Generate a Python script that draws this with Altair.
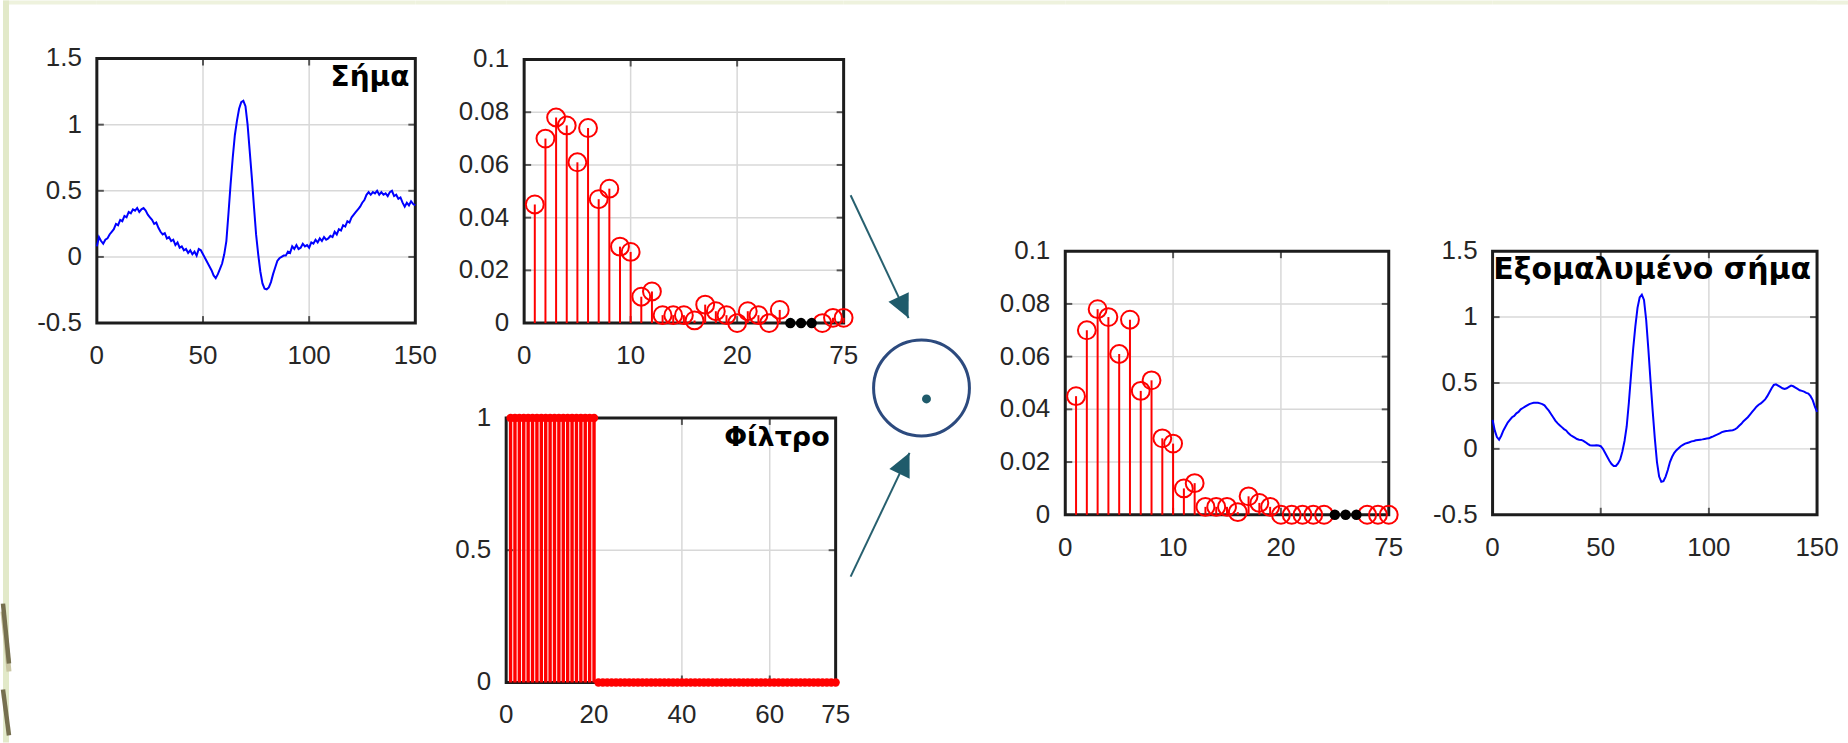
import math
import pandas as pd
import altair as alt

# ---------------- data ----------------
SIG_X = list(range(151))
NOISY = [
    0.08, 0.15, 0.12, 0.10, 0.13, 0.14, 0.17, 0.19, 0.21, 0.25,
    0.24, 0.28, 0.27, 0.31, 0.30, 0.34, 0.33, 0.36, 0.35, 0.37,
    0.34, 0.36, 0.37, 0.35, 0.32, 0.30, 0.28, 0.25, 0.26, 0.22,
    0.19, 0.17, 0.18, 0.14, 0.15, 0.12, 0.13, 0.09, 0.11, 0.07,
    0.08, 0.05, 0.06, 0.03, 0.05, 0.02, 0.04, 0.01, 0.06, 0.05,
    0.02, -0.01, -0.04, -0.07, -0.10, -0.14, -0.16, -0.13, -0.09, -0.05,
    0.02, 0.12, 0.33, 0.55, 0.75, 0.92, 1.03, 1.12, 1.17, 1.18,
    1.14, 1.00, 0.80, 0.60, 0.38, 0.17, 0.02, -0.11, -0.20, -0.24,
    -0.245, -0.23, -0.19, -0.13, -0.08, -0.03, -0.01, 0.00, 0.01, 0.01,
    0.04, 0.03, 0.08, 0.06, 0.09, 0.06, 0.07, 0.10, 0.08, 0.09,
    0.07, 0.11, 0.10, 0.13, 0.11, 0.14, 0.12, 0.15, 0.13, 0.14,
    0.16, 0.15, 0.19, 0.17, 0.21, 0.20, 0.24, 0.23, 0.27, 0.26,
    0.30, 0.32, 0.34, 0.36, 0.38, 0.41, 0.43, 0.47, 0.49, 0.47,
    0.49, 0.48, 0.50, 0.47, 0.49, 0.47, 0.48, 0.46, 0.49, 0.50,
    0.46, 0.47, 0.44, 0.45, 0.41, 0.38, 0.41, 0.39, 0.42, 0.40,
    0.39,
]
SMOOTH = [
    0.22, 0.14, 0.09, 0.07, 0.10, 0.14, 0.17, 0.20, 0.22, 0.24,
    0.25, 0.27, 0.28, 0.30, 0.31, 0.32, 0.33, 0.34, 0.345, 0.35,
    0.35, 0.35, 0.345, 0.34, 0.33, 0.31, 0.29, 0.265, 0.24, 0.215,
    0.195, 0.18, 0.165, 0.15, 0.14, 0.12, 0.105, 0.095, 0.085, 0.075,
    0.07, 0.068, 0.06, 0.05, 0.038, 0.028, 0.025, 0.025, 0.027, 0.025,
    0.02, 0.0, -0.03, -0.06, -0.09, -0.115, -0.13, -0.13, -0.11, -0.08,
    -0.02, 0.06, 0.17, 0.35, 0.56, 0.76, 0.93, 1.07, 1.15, 1.17,
    1.13, 0.98, 0.76, 0.52, 0.29, 0.08, -0.10, -0.21, -0.25, -0.245,
    -0.21, -0.16, -0.10, -0.06, -0.03, -0.01, 0.005, 0.02, 0.03, 0.04,
    0.045, 0.05, 0.057, 0.06, 0.065, 0.068, 0.07, 0.072, 0.075, 0.078,
    0.08, 0.088, 0.095, 0.103, 0.11, 0.118, 0.127, 0.132, 0.135, 0.137,
    0.14, 0.142, 0.148, 0.158, 0.175, 0.19, 0.21, 0.225, 0.24, 0.26,
    0.28, 0.30, 0.32, 0.335, 0.345, 0.36, 0.375, 0.40, 0.43, 0.46,
    0.485, 0.49, 0.48, 0.47, 0.46, 0.455, 0.46, 0.47, 0.48, 0.475,
    0.465, 0.455, 0.445, 0.44, 0.435, 0.425, 0.42, 0.40, 0.37, 0.32,
    0.28,
]

# DCT coefficients: slots 1..24 hold coefficients 1..24, slots 28..30 hold 73..75
COEF_POS = list(range(1, 25)) + [28, 29, 30]
COEF = [
    0.045, 0.070, 0.078, 0.075, 0.061, 0.074, 0.047, 0.051, 0.029, 0.027,
    0.010, 0.012, 0.003, 0.003, 0.003, 0.001, 0.007, 0.0045, 0.003, 0.0,
    0.0045, 0.003, 0.0, 0.005,
    0.0, 0.002, 0.002,
]
COEF_FILT = [
    0.045, 0.070, 0.078, 0.075, 0.061, 0.074, 0.047, 0.051, 0.029, 0.027,
    0.010, 0.012, 0.003, 0.003, 0.003, 0.001, 0.007, 0.0045, 0.003, 0.0,
    0.0, 0.0, 0.0, 0.0,
    0.0, 0.0, 0.0,
]
GAP_POS = [25, 26, 27]

FILTER_POS = list(range(1, 76))
FILTER_VAL = [1] * 20 + [0] * 55

SIG_XTICKS, SIG_XLABELS = [0, 50, 100, 150], ["0", "50", "100", "150"]
SIG_YTICKS, SIG_YLABELS = [-0.5, 0, 0.5, 1, 1.5], ["-0.5", "0", "0.5", "1", "1.5"]
COEF_XTICKS, COEF_XLABELS = [0, 10, 20, 30], ["0", "10", "20", "75"]
COEF_YTICKS = [0, 0.02, 0.04, 0.06, 0.08, 0.1]
COEF_YLABELS = ["0", "0.02", "0.04", "0.06", "0.08", "0.1"]
FILT_XTICKS, FILT_XLABELS = [0, 20, 40, 60, 75], ["0", "20", "40", "60", "75"]
FILT_YTICKS, FILT_YLABELS = [0, 0.5, 1], ["0", "0.5", "1"]

TITLES = ["Σήμα", "Φίλτρο", "Εξομαλυμένο σήμα"]

# block diagram: two arrows into the product operator (page pixels)
ARROW_X0 = [849, 849]
ARROW_Y0 = [195, 577]
ARROW_X1 = [907, 908]
ARROW_Y1 = [318, 453]
OP_CENTER = (920, 388)
OP_RADIUS = 48
OP_DOT = (925, 399)

PAGE_H = 743
RED = "#ff0000"
BLUE = "#0000ff"
FRAME = "#1c1c1c"
GRID = "#d8d8d8"
LABEL = "#262626"
STRIP = "#e2e9c9"
BAND = "#eef2dd"
TEXT_FONT = "Liberation Sans"
TITLE_FONT = "DejaVu Sans"
LABEL_SIZE = 26
ONE = pd.DataFrame({"a": [0]})


def band_layer(w):
    return alt.Chart(ONE).mark_rect(color=BAND).encode(
        x=alt.value(0), x2=alt.value(w), y=alt.value(0), y2=alt.value(4))


def panel(data_layers, xdom, ydom, xticks, xlabels, yticks, ylabels,
          xrange, yrange, title=None, title_size=28):
    """A MATLAB-style boxed axes, placed at pixel ranges inside a full-height column."""
    xs = alt.Scale(domain=xdom, range=xrange, nice=False, zero=False)
    ys = alt.Scale(domain=ydom, range=yrange, nice=False, zero=False)

    def X(f):
        return alt.X(f, scale=xs, axis=None)

    def Y(f):
        return alt.Y(f, scale=ys, axis=None)

    inner_x = [t for t in xticks if xdom[0] < t < xdom[1]]
    inner_y = [t for t in yticks if ydom[0] < t < ydom[1]]

    gx = pd.DataFrame({"g": inner_x, "lo": ydom[0], "hi": ydom[1]})
    gy = pd.DataFrame({"g": inner_y, "lo": xdom[0], "hi": xdom[1]})
    grid_v = alt.Chart(gx).mark_rule(color=GRID, strokeWidth=1.5).encode(
        x=X("g:Q"), y=Y("lo:Q"), y2="hi:Q")
    grid_h = alt.Chart(gy).mark_rule(color=GRID, strokeWidth=1.5).encode(
        y=Y("g:Q"), x=X("lo:Q"), x2="hi:Q")

    # inward tick marks on all four sides
    bx = pd.DataFrame({"g": inner_x, "e": ydom[0]})
    tx = pd.DataFrame({"g": inner_x, "e": ydom[1]})
    ly_ = pd.DataFrame({"g": inner_y, "e": xdom[0]})
    ry_ = pd.DataFrame({"g": inner_y, "e": xdom[1]})
    tick_style = dict(color=FRAME, size=7, thickness=2)
    ticks_b = alt.Chart(bx).mark_tick(orient="vertical", yOffset=-3.5, **tick_style
                                      ).encode(x=X("g:Q"), y=Y("e:Q"))
    ticks_t = alt.Chart(tx).mark_tick(orient="vertical", yOffset=3.5, **tick_style
                                      ).encode(x=X("g:Q"), y=Y("e:Q"))
    ticks_l = alt.Chart(ly_).mark_tick(orient="horizontal", xOffset=3.5, **tick_style
                                       ).encode(y=Y("g:Q"), x=X("e:Q"))
    ticks_r = alt.Chart(ry_).mark_tick(orient="horizontal", xOffset=-3.5, **tick_style
                                       ).encode(y=Y("g:Q"), x=X("e:Q"))

    box = pd.DataFrame({"x0": [xdom[0]], "x1": [xdom[1]],
                        "y0": [ydom[0]], "y1": [ydom[1]]})
    frame = alt.Chart(box).mark_rect(
        filled=False, stroke=FRAME, strokeWidth=3, fillOpacity=0
    ).encode(x=X("x0:Q"), y=Y("y0:Q"), x2="x1:Q", y2="y1:Q")

    # tick labels
    lx = pd.DataFrame({"v": xticks, "t": xlabels, "e": ydom[0]})
    ly = pd.DataFrame({"v": yticks, "t": ylabels, "e": xdom[0]})
    labels_x = alt.Chart(lx).mark_text(
        align="center", baseline="middle", dy=33, font=TEXT_FONT,
        fontSize=LABEL_SIZE, color=LABEL,
    ).encode(x=X("v:Q"), y=Y("e:Q"), text="t:N")
    labels_y = alt.Chart(ly).mark_text(
        align="right", baseline="middle", dx=-15, font=TEXT_FONT,
        fontSize=LABEL_SIZE, color=LABEL,
    ).encode(x=X("e:Q"), y=Y("v:Q"), text="t:N")

    parts = [grid_v, grid_h, ticks_b, ticks_t, ticks_l, ticks_r, frame,
             labels_x, labels_y] + data_layers(X, Y)
    if title is not None:
        parts.append(alt.Chart(pd.DataFrame({"t": [title]})).mark_text(
            align="right", baseline="alphabetic", font=TITLE_FONT,
            fontWeight="bold", fontSize=title_size, color="#000000",
        ).encode(x=alt.value(xrange[1] - 6), y=alt.value(yrange[1] + 28), text="t:N"))
    return alt.layer(*parts)


def signal_layers(values):
    def fn(X, Y):
        df = pd.DataFrame({"x": SIG_X, "y": values})
        return [alt.Chart(df).mark_line(color=BLUE, strokeWidth=2).encode(
            x=X("x:Q"), y=Y("y:Q"))]
    return fn


def coef_layers(values):
    def fn(X, Y):
        df = pd.DataFrame({"i": COEF_POS, "v": values})
        stems = alt.Chart(df).mark_rule(color=RED, strokeWidth=2).encode(
            x=X("i:Q"), y=Y("v:Q"), y2=alt.datum(0))
        heads = alt.Chart(df).mark_point(
            shape="circle", filled=False, color=RED, size=320, strokeWidth=2,
            opacity=1).encode(x=X("i:Q"), y=Y("v:Q"))
        gap = alt.Chart(pd.DataFrame({"i": GAP_POS, "v": [0, 0, 0]})).mark_point(
            shape="circle", filled=True, color="#000000", size=110, opacity=1
        ).encode(x=X("i:Q"), y=Y("v:Q"))
        return [stems, heads, gap]
    return fn


def filter_layers(X, Y):
    df = pd.DataFrame({"i": FILTER_POS, "v": FILTER_VAL})
    stems = alt.Chart(df).mark_rule(color=RED, strokeWidth=3.4).encode(
        x=X("i:Q"), y=Y("v:Q"), y2=alt.datum(0))
    heads = alt.Chart(df).mark_point(
        shape="circle", filled=True, color=RED, size=70, opacity=1
    ).encode(x=X("i:Q"), y=Y("v:Q"))
    return [stems, heads]


def column(w, *layers):
    return alt.layer(band_layer(w), *layers).resolve_scale(
        x="independent", y="independent").properties(width=w, height=PAGE_H)


def blank_column(w):
    return alt.layer(band_layer(w)).properties(width=w, height=PAGE_H)


def strip_column(w):
    strip = alt.Chart(ONE).mark_rect(color=STRIP).encode(
        x=alt.value(0), x2=alt.value(6), y=alt.value(0), y2=alt.value(PAGE_H))
    stripes = []
    for ya, yb, col, sw in [(612, 672, "#c9c6a3", 5), (604, 664, "#76704f", 4.5),
                            (690, 736, "#76704f", 4.5)]:
        stripes.append(alt.Chart(ONE).mark_rule(color=col, strokeWidth=sw).encode(
            x=alt.value(0), x2=alt.value(6), y=alt.value(ya), y2=alt.value(yb)))
    return alt.layer(band_layer(w), strip, *stripes).properties(width=w, height=PAGE_H)


def diagram(x_left, w):
    xs = alt.Scale(domain=[x_left, x_left + w], range=[0, w], nice=False, zero=False)
    ys = alt.Scale(domain=[0, PAGE_H], range=[0, PAGE_H], nice=False, zero=False)
    arrows = pd.DataFrame({
        "x0": ARROW_X0, "y0": ARROW_Y0, "x1": ARROW_X1, "y1": ARROW_Y1,
        "ang": [math.degrees(math.atan2(x1 - x0, -(y1 - y0)))
                for x0, y0, x1, y1 in zip(ARROW_X0, ARROW_Y0, ARROW_X1, ARROW_Y1)],
    })
    shafts = alt.Chart(arrows).mark_rule(color="#27606f", strokeWidth=2).encode(
        x=alt.X("x0:Q", scale=xs, axis=None), y=alt.Y("y0:Q", scale=ys, axis=None),
        x2="x1:Q", y2="y1:Q")
    heads = alt.Chart(arrows).mark_point(
        shape="M0,0L0.77,1.6L-0.77,1.6Z", filled=True, color="#1f5b6b",
        size=850, opacity=1,
    ).encode(x=alt.X("x1:Q", scale=xs, axis=None), y=alt.Y("y1:Q", scale=ys, axis=None),
             angle=alt.Angle("ang:Q", scale=None))
    op = pd.DataFrame({"x": [OP_CENTER[0]], "y": [OP_CENTER[1]]})
    ring = alt.Chart(op).mark_point(
        shape="circle", filled=False, color="#2c4a7e", strokeWidth=3,
        size=(2 * OP_RADIUS) ** 2, opacity=1,
    ).encode(x=alt.X("x:Q", scale=xs, axis=None), y=alt.Y("y:Q", scale=ys, axis=None))
    dot = alt.Chart(pd.DataFrame({"x": [OP_DOT[0]], "y": [OP_DOT[1]]})).mark_point(
        shape="circle", filled=True, color="#1f5b6b", size=80, opacity=1,
    ).encode(x=alt.X("x:Q", scale=xs, axis=None), y=alt.Y("y:Q", scale=ys, axis=None))
    return alt.layer(band_layer(w), shafts, heads, ring, dot).properties(
        width=w, height=PAGE_H)


# ---------------- panels ----------------
p_signal = panel(signal_layers(NOISY), [0, 150], [-0.5, 1.5],
                 SIG_XTICKS, SIG_XLABELS, SIG_YTICKS, SIG_YLABELS,
                 [0, 319], [323, 58], title=TITLES[0], title_size=28)
p_coef = panel(coef_layers(COEF), [0, 30], [0, 0.1],
               COEF_XTICKS, COEF_XLABELS, COEF_YTICKS, COEF_YLABELS,
               [18, 338], [323, 59])
p_filter = panel(filter_layers, [0, 75], [0, 1],
                 FILT_XTICKS, FILT_XLABELS, FILT_YTICKS, FILT_YLABELS,
                 [0, 330], [683, 418], title=TITLES[1], title_size=27)
p_coef_f = panel(coef_layers(COEF_FILT), [0, 30], [0, 0.1],
                 COEF_XTICKS, COEF_XLABELS, COEF_YTICKS, COEF_YLABELS,
                 [0, 324], [515, 251])
p_smooth = panel(signal_layers(SMOOTH), [0, 150], [-0.5, 1.5],
                 SIG_XTICKS, SIG_XLABELS, SIG_YTICKS, SIG_YLABELS,
                 [0, 325], [515, 251], title=TITLES[2], title_size=30)

chart = alt.hconcat(
    strip_column(94),                 # 0 - 94
    column(319, p_signal),            # 94 - 413
    blank_column(91),                 # 413 - 504
    column(338, p_coef, p_filter),    # 504 - 842
    diagram(842, 222),                # 842 - 1064
    column(324, p_coef_f),            # 1064 - 1388
    blank_column(104),                # 1388 - 1492
    column(325, p_smooth),            # 1492 - 1817
    blank_column(31),                 # 1817 - 1848
    spacing=0, bounds="flush",
).properties(
    padding=0, background="#ffffff"
).configure_view(strokeWidth=0)

chart.save("out.html", embed_options={"renderer": "svg", "actions": False})
